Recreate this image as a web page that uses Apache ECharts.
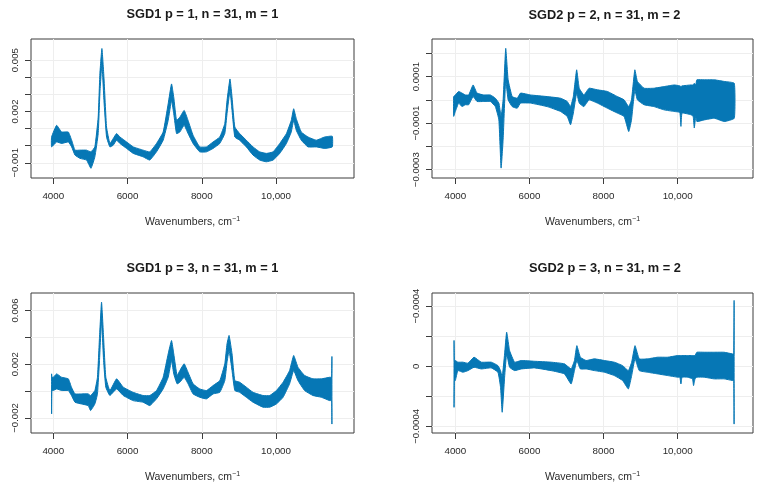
<!DOCTYPE html>
<html><head><meta charset="utf-8">
<script src="https://cdn.jsdelivr.net/npm/echarts@6/dist/echarts.min.js"></script>
<style>html,body{margin:0;padding:0;background:#fff}#c{width:762px;height:488px}</style>
</head><body><div id="c"></div>
<script>
// ---------- DATA (envelope of the 31 spectra) ----------
const p1Wn = [3955,4090,4225,4405,4495,4585,4720,4895,5015,5120,5210,5255,5310,5365,5435,5525,5615,5705,5795,5975,6155,6420,6600,6780,6960,7095,7185,7245,7320,7410,7525,7630,7765,7945,8125,8305,8485,8620,8680,8760,8815,8890,9020,9200,9380,9560,9740,9920,10100,10280,10410,10475,10545,10680,10860,11085,11310,11515];
const p1Upper = [0.00051,0.00119,0.0008,0.0008,0.00032,-0.00026,-0.00026,-0.00026,-0.00036,-0.00007,0.00167,0.00419,0.00568,0.00399,0.00109,0.00013,0.00042,0.00071,0.00051,0.00022,-0.00007,-0.00026,-0.00036,0.00013,0.0008,0.00245,0.00361,0.00283,0.00148,0.00167,0.00206,0.00148,0.00061,-0.00007,-0.00007,0.00022,0.00051,0.00129,0.00264,0.0039,0.00283,0.00109,0.00071,0.00032,-0.00007,-0.00036,-0.00045,-0.00036,0.00013,0.00071,0.00148,0.00216,0.00158,0.0008,0.00051,0.00032,0.00051,0.00055];
const p1Lower = [-0.00007,0.00022,0.00013,0.00022,-0.00007,-0.00055,-0.00074,-0.00084,-0.00132,-0.00065,0.00071,0.00303,0.00477,0.00264,0.00051,-0.00007,0.00003,0.00032,0.00013,-0.00016,-0.00045,-0.00065,-0.00084,-0.00036,0.00032,0.00148,0.00264,0.00187,0.00071,0.0008,0.00119,0.00071,0.00013,-0.00036,-0.00036,-0.00016,0.00013,0.00071,0.00187,0.00322,0.00206,0.00051,0.00032,-0.00007,-0.00055,-0.00084,-0.00094,-0.00084,-0.00045,0.00013,0.0008,0.00148,0.0009,0.00032,-0.00007,-0.00007,-0.00016,-0.00007];

const p2Wn = [3955,4000,4090,4180,4270,4360,4480,4585,4765,4945,5080,5175,5235,5290,5360,5425,5535,5670,5760,6030,6480,6840,7020,7110,7185,7275,7345,7470,7610,7835,8105,8375,8555,8680,8755,8845,8915,9095,9365,9635,9910,10060,10090,10120,10360,10420,10450,10490,10520,10720,10990,11260,11530];
const p2Upper = [1.4e-5,2.1e-5,3.6e-5,2.9e-5,2.1e-5,2.1e-5,6.4e-5,2.9e-5,2.1e-5,2.1e-5,0.7e-5,-1.4e-5,-7.1e-5,0,22.1e-5,8.6e-5,1.4e-5,0.7e-5,2.9e-5,2.1e-5,1.4e-5,0.7e-5,-0.7e-5,-2.9e-5,1.4e-5,12.9e-5,5.0e-5,2.1e-5,5.0e-5,4.3e-5,3.6e-5,1.4e-5,0,-2.9e-5,0,12.9e-5,7.9e-5,5.0e-5,5.0e-5,5.7e-5,6.4e-5,6.0e-5,5.7e-5,6.0e-5,6.4e-5,6.4e-5,7.1e-5,6.4e-5,8.6e-5,8.6e-5,8.6e-5,7.9e-5,7.1e-5];
const p2Lower = [-7.1e-5,-5.0e-5,-1.4e-5,-2.9e-5,-2.1e-5,-2.1e-5,1.4e-5,-0.7e-5,-0.7e-5,-0.7e-5,-2.9e-5,-8.6e-5,-29.3e-5,-17.1e-5,8.6e-5,0,-2.9e-5,-3.6e-5,-1.4e-5,-1.4e-5,-2.9e-5,-5.0e-5,-7.1e-5,-10.7e-5,-5.7e-5,2.9e-5,-1.4e-5,-2.9e-5,0,-1.4e-5,-3.6e-5,-5.7e-5,-7.1e-5,-13.6e-5,-8.6e-5,4.3e-5,0,-2.1e-5,-2.9e-5,-4.3e-5,-5.0e-5,-5.4e-5,-11.4e-5,-5.7e-5,-6.4e-5,-7.1e-5,-12.1e-5,-7.1e-5,-9.3e-5,-8.6e-5,-7.9e-5,-9.3e-5,-7.9e-5];

const p3Wn = [3955,3962,4000,4090,4225,4405,4490,4585,4760,4940,5005,5120,5190,5245,5300,5355,5415,5525,5705,5885,6150,6420,6600,6780,6960,7095,7185,7245,7335,7410,7525,7630,7765,7945,8125,8305,8485,8620,8680,8735,8815,8890,9020,9200,9380,9650,9830,10010,10190,10365,10475,10590,10770,10995,11220,11445,11495,11505];
const p3Upper = [0.00128,0.00103,0.00103,0.00128,0.00103,0.00091,0.00029,-0.00021,-0.00021,-0.00021,-0.00033,0.00004,0.00103,0.00401,0.00662,0.00401,0.00103,0.00004,0.00091,0.00029,-0.00009,-0.00033,-0.00033,0.00004,0.00103,0.00277,0.00376,0.00277,0.00116,0.00153,0.00203,0.0014,0.00054,0.00016,0.00004,0.00041,0.00078,0.00203,0.00352,0.00414,0.00277,0.00078,0.00066,0.00029,-0.00009,-0.00033,-0.00033,0.00004,0.00066,0.00153,0.00265,0.00178,0.00116,0.00091,0.00091,0.00103,0.00103,0.00257];
const p3Lower = [-0.0017,0.00004,0.00004,0.00016,0.00004,0.00004,-0.00033,-0.00083,-0.00096,-0.00108,-0.00145,-0.00096,-0.00021,0.00227,0.00525,0.00227,0.00029,-0.00033,0.00016,-0.00033,-0.00071,-0.00083,-0.00108,-0.00058,0.00016,0.00103,0.00227,0.00128,0.00054,0.00066,0.00103,0.00054,-0.00021,-0.00046,-0.00058,-0.00021,-0.00009,0.00078,0.00215,0.00302,0.00153,0.00004,-0.00009,-0.00046,-0.00083,-0.0012,-0.0012,-0.00096,-0.00046,0.00054,0.00153,0.00078,0.00004,-0.00033,-0.00046,-0.00071,-0.00071,-0.00245];

const p4Wn = [3965,3975,4000,4070,4205,4340,4505,4700,4970,5150,5220,5265,5330,5385,5465,5600,5780,6135,6585,6945,7125,7215,7280,7375,7530,7755,8025,8290,8515,8670,8760,8850,8965,9190,9460,9730,10000,10060,10090,10120,10270,10400,10430,10470,10520,10720,10985,11255,11480,11515,11525];
const p4Upper = [17.1e-5,3.8e-5,3.8e-5,2.7e-5,2.7e-5,2.0e-5,6.0e-5,2.7e-5,2.7e-5,0.4e-5,-2.9e-5,-7.3e-5,8.2e-5,22.6e-5,10.4e-5,2.7e-5,3.8e-5,3.3e-5,2.7e-5,1.6e-5,-1.8e-5,3.8e-5,13.7e-5,6.0e-5,3.8e-5,4.9e-5,3.8e-5,2.7e-5,0.4e-5,-2.9e-5,2.7e-5,13.7e-5,4.9e-5,4.9e-5,6.0e-5,6.0e-5,7.1e-5,7.1e-5,7.1e-5,7.1e-5,7.1e-5,7.1e-5,7.1e-5,7.1e-5,9.3e-5,9.3e-5,9.3e-5,9.3e-5,8.2e-5,8.2e-5,43.7e-5];
const p4Lower = [-27.3e-5,-9.5e-5,-9.5e-5,-2.9e-5,-4.0e-5,-2.9e-5,-0.7e-5,-1.8e-5,-1.1e-5,-4.0e-5,-14.0e-5,-30.6e-5,-7.3e-5,8.2e-5,-0.7e-5,-2.9e-5,-1.8e-5,-1.1e-5,-2.9e-5,-5.1e-5,-11.8e-5,-2.9e-5,3.8e-5,-1.8e-5,-1.8e-5,-2.9e-5,-4.0e-5,-6.2e-5,-9.5e-5,-15.1e-5,-6.2e-5,4.9e-5,-2.9e-5,-4.0e-5,-5.1e-5,-6.2e-5,-7.3e-5,-7.3e-5,-11.8e-5,-7.3e-5,-7.3e-5,-8.4e-5,-12.9e-5,-8.4e-5,-7.3e-5,-7.3e-5,-8.4e-5,-8.4e-5,-9.5e-5,-9.5e-5,-38.4e-5];

// ---------- TICKS / LABELS ----------
const xTickVals = [4000, 6000, 8000, 10000];
const xTickText = ['4000', '6000', '8000', '10,000'];
const p1YTicks = [-0.001, 0, 0.001, 0.002, 0.003, 0.004, 0.005];
const p1YLabelVals = [0.005, 0.002, -0.001];
const p1YLabelText = ['0.005', '0.002', '\u22120.001'];
const p2YTicks = [-0.0003, -0.0002, -0.0001, 0, 0.0001, 0.0002];
const p2YLabelVals = [0.0001, -0.0001, -0.0003];
const p2YLabelText = ['0.0001', '\u22120.0001', '\u22120.0003'];
const p3YTicks = [-0.002, 0, 0.002, 0.004, 0.006];
const p3YLabelVals = [0.006, 0.002, -0.002];
const p3YLabelText = ['0.006', '0.002', '\u22120.002'];
const p4YTicks = [-0.0004, -0.0002, 0, 0.0002, 0.0004];
const p4YLabelVals = [0.0004, 0, -0.0004];
const p4YLabelText = ['\u22120.0004', '0', '\u22120.0004'];

const titles = ['SGD1 p = 1, n = 31, m = 1', 'SGD2 p = 2, n = 31, m = 2', 'SGD1 p = 3, n = 31, m = 1', 'SGD2 p = 3, n = 31, m = 2'];
const xName = 'Wavenumbers, cm{sup|\u22121}';

// ---------- LAYOUT ----------
const FONT = '"Liberation Sans", Arial, Helvetica, sans-serif';
const COLOR = '#0677b5';
const panels = [
  {wn:p1Wn, up:p1Upper, lo:p1Lower, yt:p1YTicks, ylv:p1YLabelVals, ylt:p1YLabelText, box:[31,39,354,178], xr:[3400,12100], yr:[-0.001888,0.006236], tx:202.5, ty:8},
  {wn:p2Wn, up:p2Upper, lo:p2Lower, yt:p2YTicks, ylv:p2YLabelVals, ylt:p2YLabelText, box:[432,39,753,178], xr:[3370,12035], yr:[-0.0003356,0.0002613], tx:604.5, ty:8.5},
  {wn:p3Wn, up:p3Upper, lo:p3Lower, yt:p3YTicks, ylv:p3YLabelVals, ylt:p3YLabelText, box:[31,293,354,433], xr:[3400,12100], yr:[-0.00312,0.0073], tx:202.5, ty:262},
  {wn:p4Wn, up:p4Upper, lo:p4Lower, yt:p4YTicks, ylv:p4YLabelVals, ylt:p4YLabelText, box:[432,293,753,433], xr:[3370,12035], yr:[-0.000444,0.000487], tx:605, ty:262}
];

function lookup(vals, texts, v) {
  for (let i = 0; i < vals.length; i++) if (Math.abs(vals[i] - v) < 1e-12) return texts[i];
  return '';
}

const option = {
  animation: false,
  backgroundColor: '#fff',
  title: panels.map((p, i) => ({
    text: titles[i], left: p.tx, top: p.ty, textAlign: 'center', padding: 0,
    textStyle: {fontSize: 12.8, fontWeight: 'bold', color: '#1a1a1a', fontFamily: FONT}
  })),
  grid: panels.map(p => ({
    left: p.box[0], top: p.box[1], width: p.box[2] - p.box[0], height: p.box[3] - p.box[1],
    show: true, borderColor: '#3c3c3c', borderWidth: 1, backgroundColor: 'transparent', containLabel: false
  })),
  xAxis: panels.map((p, i) => ({
    type: 'value', gridIndex: i, min: p.xr[0], max: p.xr[1],
    axisLine: {show: false, onZero: false},
    axisTick: {show: true, customValues: xTickVals, length: 6, lineStyle: {color: '#3c3c3c'}},
    axisLabel: {customValues: xTickVals, margin: 13, color: '#2a2a2a', fontSize: 9.8, fontFamily: FONT,
      formatter: v => lookup(xTickVals, xTickText, v)},
    splitLine: {show: true, lineStyle: {color: '#eeeeee', width: 1}},
    name: xName, nameLocation: 'middle', nameGap: 38,
    nameTextStyle: {fontSize: 10.5, color: '#2a2a2a', fontFamily: FONT,
      rich: {sup: {fontSize: 7, fontFamily: FONT, color: '#2a2a2a', verticalAlign: 'top', padding: [0, 0, 5, 0]}}}
  })),
  yAxis: panels.map((p, i) => ({
    type: 'value', gridIndex: i, min: p.yr[0], max: p.yr[1],
    axisLine: {show: false, onZero: false},
    axisTick: {show: true, customValues: p.yt, length: 6, lineStyle: {color: '#3c3c3c'}},
    axisLabel: {customValues: p.ylv, rotate: 90, margin: 11, color: '#2a2a2a', fontSize: 9.6, fontFamily: FONT,
      formatter: v => lookup(p.ylv, p.ylt, v)},
    splitLine: {show: true, lineStyle: {color: '#eeeeee', width: 1}}
  })),
  series: panels.map((p, i) => ({
    type: 'custom', xAxisIndex: i, yAxisIndex: i, silent: true, clip: true,
    data: [[p.wn[0], p.up[0]]],
    renderItem: function (params, api) {
      const pts = [];
      for (let k = 0; k < p.wn.length; k++) pts.push(api.coord([p.wn[k], p.up[k]]));
      for (let k = p.wn.length - 1; k >= 0; k--) pts.push(api.coord([p.wn[k], p.lo[k]]));
      return {type: 'polygon', shape: {points: pts, smooth: 0.12},
        style: {fill: COLOR, stroke: COLOR, lineWidth: 1, lineJoin: 'round'}};
    }
  }))
};

const chart = echarts.init(document.getElementById('c'), null, {renderer: 'canvas'});
chart.setOption(option);
</script>
</body></html>
